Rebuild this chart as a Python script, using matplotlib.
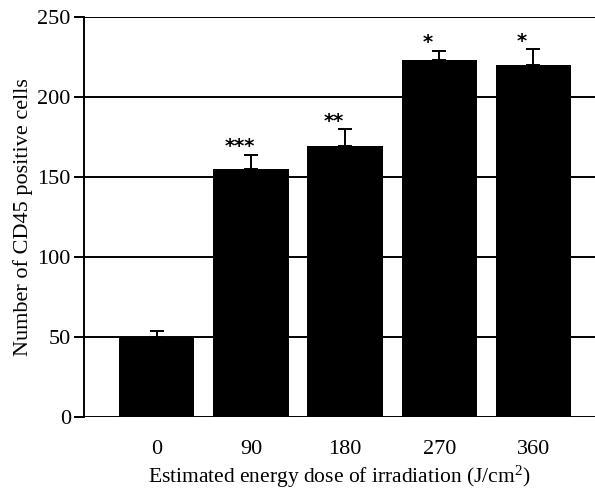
import matplotlib
matplotlib.use("Agg")
import matplotlib.pyplot as plt
import numpy as np

# Dose groups and measured CD45-positive cell counts (mean with upper SEM)
doses = ["0", "90", "180", "270", "360"]
cell_counts = [50, 155, 169.5, 223.5, 220]
sem = [3.5, 9, 10.5, 5.5, 10]
significance = ["", "***", "**", "*", "*"]

y_ticks = [0, 50, 100, 150, 200, 250]

plt.rcParams["font.family"] = ["Liberation Serif", "DejaVu Serif"]
plt.rcParams["mathtext.fontset"] = "custom"
plt.rcParams["mathtext.rm"] = "Liberation Serif"
plt.rcParams["mathtext.it"] = "Liberation Serif:italic"

fig = plt.figure(figsize=(5.95, 4.93), dpi=100)
ax = fig.add_axes([0.1412, 0.1548, 0.8588, 0.8101])

x = np.arange(len(doses))
lw = 1.4

ax.bar(x, cell_counts, width=0.8, color="black", zorder=2)
ax.errorbar(x, cell_counts, yerr=[np.zeros(len(sem)), sem], fmt="none",
            ecolor="black", elinewidth=lw, capsize=5, capthick=lw, zorder=3)

for xi, m, e, s in zip(x, cell_counts, sem, significance):
    if s:
        ax.text(xi - 0.12, m + e + 1.5, s, ha="center", va="baseline",
                fontsize=14, fontweight="bold", family="DejaVu Sans", zorder=4)

ax.set_xlim(-0.772, 4.653)
ax.set_ylim(0, 250)
ax.set_yticks(y_ticks)
ax.set_xticks(x)
ax.set_xticklabels(doses)

ax.yaxis.grid(True, color="black", linewidth=lw)
ax.set_axisbelow(True)

for side in ["top", "right", "bottom"]:
    ax.spines[side].set_visible(False)
ax.spines["left"].set_linewidth(lw)

ax.tick_params(axis="y", direction="out", length=7.5, width=lw, pad=2, labelsize=16)
ax.tick_params(axis="x", length=0, pad=17, labelsize=16)

ax.set_ylabel("Number of CD45 positive cells", fontsize=16, labelpad=3)
ax.set_xlabel(r"Estimated energy dose of irradiation (J/cm$^{2}$)", fontsize=15.5, labelpad=3)

fig.savefig("out.png", dpi=100)
